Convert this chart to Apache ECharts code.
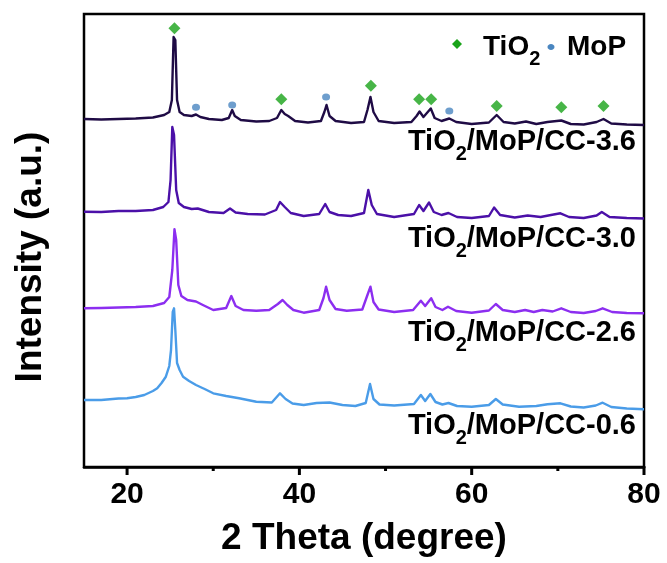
<!DOCTYPE html>
<html>
<head>
<meta charset="utf-8">
<script src="https://cdn.jsdelivr.net/npm/echarts@6/dist/echarts.min.js"></script>
<style>html,body{margin:0;padding:0;background:#fff}#c{width:667px;height:563px}</style>
</head>
<body>
<div id="c"></div>
<script>
// 2θ (degree), intensity (a.u.)
const trace36 = [[15,18],[17,17.5],[19,18],[21,18.5],[23,19.5],[24.3,22],[24.9,25],[25.2,37],[25.4,100],[25.6,97],[25.8,37],[26.1,25],[26.6,22],[27.5,21],[28,22.5],[28.5,20],[29.5,18],[31,17],[31.8,19],[32.2,27],[32.5,21],[33.2,17],[35,15.5],[36.5,16],[37.4,19],[37.9,27],[38.3,23],[38.7,21],[39.5,16],[41,14.5],[42.5,16],[42.9,25],[43.15,32],[43.5,21],[44.2,16],[46,14],[47.5,15],[47.9,27],[48.25,40],[48.6,25],[49.2,16],[51,14],[53,15],[53.6,21],[53.95,25.5],[54.4,20],[54.9,25],[55.25,28.5],[55.7,19],[56.5,16],[57.4,18.5],[58.2,15],[60,13],[62,14.5],[62.9,22],[63.7,15],[65,13.5],[66.3,15.5],[67.5,13],[68.8,15],[70.4,16.5],[71.5,13],[73,12.5],[74.5,15],[75.3,18],[76.2,13.5],[78,12.5],[80,12]];
const trace30 = [[15,15.3],[17,15],[19,16],[21,16],[23,17],[24.2,20],[24.8,25],[25.05,47],[25.25,100],[25.45,92],[25.7,37],[26,24],[26.6,20],[27.5,18],[28.2,18.5],[29.5,15],[31.2,14],[31.95,18.5],[32.6,14.5],[34,13],[36,12.5],[37.3,17],[37.75,25],[38.3,20],[39,14],[40.5,11],[42.3,13],[43,23],[43.5,15],[44.5,12],[46,11],[47.5,14],[48,37],[48.4,22],[49,13],[51,10],[53.3,13],[53.9,22],[54.4,16],[55.05,24.5],[55.6,15],[56.5,12],[57.3,14],[58.3,10],[60,9],[62,11],[62.6,19.5],[63.3,12],[65,9.5],[66.5,11.5],[68,10],[69.2,12],[70.3,13.7],[71.3,10],[73,9],[74.5,11.5],[75.1,15],[76,10],[78,9],[80,8.5]];
const trace26 = [[15,13.7],[17,14],[19,14.5],[21,15],[23,16],[24.3,19],[24.9,25],[25.25,52],[25.5,92.7],[25.7,82],[25.95,37],[26.3,26],[27,22],[28,20.5],[28.8,17],[30,12],[31.5,14],[32.1,26],[32.6,16],[33.5,12],[35,11.3],[36.5,12],[37.5,18],[38.05,22],[38.6,17],[39.3,12],[40.5,9.3],[42.3,12],[42.8,24],[43.1,35.3],[43.5,22],[44.2,13],[45.5,11.3],[47.3,12.5],[47.9,27],[48.25,35.3],[48.6,20],[49.2,12.5],[51,10],[53.2,12],[54.1,21.3],[54.6,16],[55.3,23.7],[55.8,15],[56.6,12],[57.25,15.3],[58.2,11],[60,9.3],[62,11.5],[62.8,18],[63.6,12],[65,10],[66.2,12],[67.2,10],[68.2,12],[69.4,10.5],[70.4,13.7],[71.5,10],[73,9],[74.4,11],[75.2,13.7],[76.3,10],[78,9],[80,8.7]];
const trace06 = [[15,17],[17,17],[19,18.5],[20,18.7],[21,20],[22,22],[23,26],[23.5,28.7],[24,34],[24.5,40.3],[24.9,51],[25.1,67],[25.3,105],[25.45,108.7],[25.6,87],[25.8,54],[26.1,47],[26.5,40.3],[27.2,36],[28,32],[29,28],[30,23.7],[31.5,21],[33,18.7],[35,15.3],[36.8,14.5],[37.75,23.7],[38.4,18],[39.2,13.5],[40.5,12],[42,14],[43.5,14.5],[45,12],[46.5,11],[47.7,14],[48.2,33],[48.6,18],[49.3,12.5],[51,11.5],[53.3,13],[54.1,22],[54.6,16],[55.2,23],[55.8,15],[56.6,12.5],[57.3,14],[58.3,11],[60,10.3],[62,12],[62.8,18],[63.6,12.5],[65.5,10.3],[67.5,11],[68.8,12.7],[70.3,13.7],[71.5,10.5],[73,9.5],[74.4,11.5],[75.2,14.3],[76.2,10],[78,8.5],[80,7.7]];
const offsets = [330, 240, 145, 50];
const seriesNames = ['TiO2/MoP/CC-3.6','TiO2/MoP/CC-3.0','TiO2/MoP/CC-2.6','TiO2/MoP/CC-0.6'];
const colors = ['#1f0b45','#4b10a8','#8c2ef0','#4a9ce8'];
// phase markers (above the CC-3.6 trace, same units as trace36)
const tio2Peaks = [[25.5,108.7],[37.9,37.7],[48.3,51.3],[53.9,37.7],[55.3,37.7],[62.9,31],[70.4,29.7],[75.3,31]];
const mopPeaks = [[28.0,29.7],[32.2,32],[43.1,40],[57.4,26]];
const majorTicks = [20,40,60,80];
const minorTicks = [30,50,70];

const FONT = '"Liberation Sans", Arial, sans-serif';
const traces = [trace36, trace30, trace26, trace06];
const shift = (arr, off) => arr.map(p => [p[0], p[1] + off]);

const lineSeries = traces.map((t, i) => ({
  name: seriesNames[i], type: 'line', data: shift(t, offsets[i]),
  showSymbol: false, symbol: 'none', smooth: false, z: 3,
  lineStyle: { color: colors[i], width: 2.4, join: 'round' }, itemStyle: { color: colors[i] }
}));

const labelY = [142, 239, 333, 426];
const rich = {
  a: { fontSize: 29, fontWeight: 'bold', fontFamily: FONT, lineHeight: 30, fill: '#000' },
  s: { fontSize: 20, fontWeight: 'bold', fontFamily: FONT, lineHeight: 30, padding: [24, 0, 0, 0], fill: '#000' }
};
const richLegend = {
  a: { fontSize: 28, fontWeight: 'bold', fontFamily: FONT, lineHeight: 30, fill: '#000' },
  s: { fontSize: 20, fontWeight: 'bold', fontFamily: FONT, lineHeight: 30, padding: [24, 0, 0, 0], fill: '#000' }
};
const labelGraphics = seriesNames.map((n, i) => ({
  type: 'text', x: 636, y: labelY[i], z: 10,
  style: {
    text: '{a|TiO}{s|2}{a|' + n.slice(4) + '}', rich: rich,
    align: 'right', verticalAlign: 'middle', fill: '#000',
    font: 'bold 29px ' + FONT
  }
}));

const baseGraphics = [
  { type: 'text', x: 31, y: 257, rotation: Math.PI / 2, z: 10,
    style: { text: 'Intensity (a.u.)', font: 'bold 37px ' + FONT, fill: '#000', align: 'center', verticalAlign: 'middle' } },
  { type: 'polygon', z: 10, shape: { points: [[457, 39], [462, 44], [457, 49], [452, 44]] }, style: { fill: '#19a319' } },
  { type: 'text', x: 483, y: 47, z: 10,
    style: { text: '{a|TiO}{s|2}', rich: richLegend, align: 'left', verticalAlign: 'middle', fill: '#000', font: 'bold 28px ' + FONT } },
  { type: 'ellipse', z: 10, shape: { cx: 551, cy: 47, rx: 3.5, ry: 3 }, style: { fill: '#4a86c0' } },
  { type: 'text', x: 567, y: 47, z: 10,
    style: { text: 'MoP', align: 'left', verticalAlign: 'middle', fill: '#000', font: 'bold 28px ' + FONT } }
].concat(labelGraphics);

const chart = echarts.init(document.getElementById('c'), null, { renderer: 'canvas' });
chart.setOption({
  animation: false,
  backgroundColor: '#fff',
  grid: { left: 84, right: 23, top: 14, bottom: 96, show: true, borderColor: '#000', borderWidth: 2.5 },
  xAxis: {
    type: 'value', min: 15, max: 80,
    name: '2 Theta (degree)', nameLocation: 'middle', nameGap: 53,
    nameTextStyle: { fontSize: 37, fontWeight: 'bold', fontFamily: FONT, color: '#000' },
    axisLine: { show: true, onZero: false, lineStyle: { color: '#000', width: 2.5 } },
    axisTick: { show: false },
    axisLabel: { customValues: majorTicks, fontSize: 30, fontWeight: 'bold', fontFamily: FONT, color: '#000', margin: 13 },
    splitLine: { show: false }
  },
  yAxis: { type: 'value', min: 0, max: 453, show: false },
  series: lineSeries.concat([
    { name: 'TiO2', type: 'scatter', symbol: 'diamond', symbolSize: [12, 12], z: 5,
      itemStyle: { color: '#19a319' }, data: shift(tio2Peaks, offsets[0]) },
    { name: 'MoP', type: 'scatter', symbol: 'circle', symbolSize: [8, 7], z: 5,
      itemStyle: { color: '#4a86c0' }, data: shift(mopPeaks, offsets[0]) }
  ]),
  graphic: baseGraphics
});

// tick marks: positions come from the x scale via convertToPixel
function tickRects(values, len) {
  return values.map(v => {
    const p = chart.convertToPixel({ xAxisIndex: 0, yAxisIndex: 0 }, [v, 0]);
    return { type: 'rect', z: 30, shape: { x: p[0] - 1.5, y: p[1] - 1, width: 3, height: len + 1 }, style: { fill: '#000' } };
  });
}
chart.setOption({ graphic: baseGraphics.concat(tickRects(majorTicks, 8), tickRects(minorTicks, 4)) });
</script>
</body>
</html>
